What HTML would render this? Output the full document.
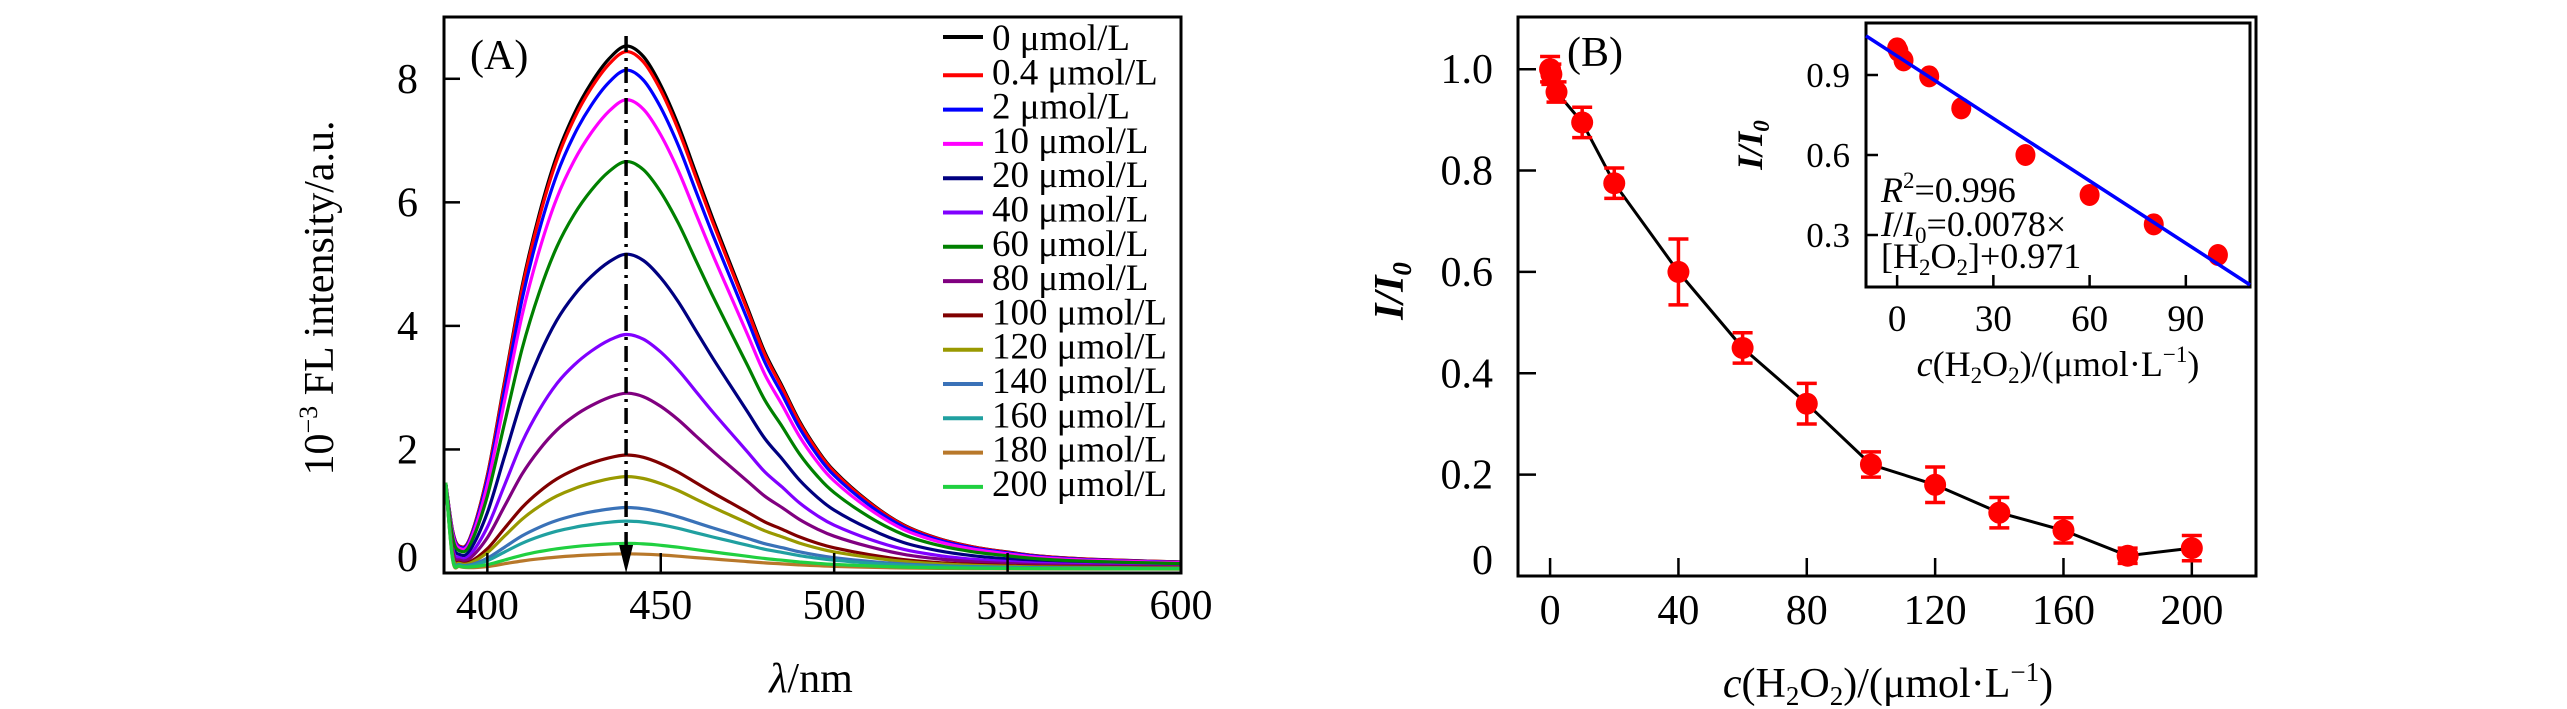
<!DOCTYPE html>
<html><head><meta charset="utf-8"><style>
html,body{margin:0;padding:0;background:#fff;}
svg{display:block;font-family:"Liberation Serif",serif;}
</style></head><body>
<svg id="fig" width="2567" height="709" viewBox="0 0 2567 709" xmlns="http://www.w3.org/2000/svg">
<g id="panelA"></g>
<g id="panelB"></g>
</svg>
<script>
// ---------- Panel A data ----------
const wavelengths = [388,390,392,395,400,405,410,415,420,425,430,435,440,445,450,455,460,465,470,475,480,485,490,495,500,510,520,530,540,550,560,575,600];
const profile =     [0.0,0.02,0.03,0.055,0.18,0.36,0.54,0.68,0.79,0.87,0.93,0.975,1.0,0.98,0.925,0.85,0.76,0.67,0.585,0.50,0.415,0.35,0.283,0.23,0.188,0.129,0.085,0.059,0.043,0.033,0.025,0.019,0.014];
const edge =        [1.40,0.45,0.12,0.04,0.0,0,0,0,0,0,0,0,0,0,0,0,0,0,0,0,0,0,0,0,0,0,0,0,0,0,0,0,0];
const concLabels = ["0 μmol/L","0.4 μmol/L","2 μmol/L","10 μmol/L","20 μmol/L","40 μmol/L","60 μmol/L","80 μmol/L","100 μmol/L","120 μmol/L","140 μmol/L","160 μmol/L","180 μmol/L","200 μmol/L"];
const peaks = [8.47,8.38,8.08,7.6,5.1,3.8,6.6,2.85,1.85,1.5,1.0,0.78,0.25,0.42];
const colors = ["#000000","#ff0000","#0000ff","#ff00ff","#000080","#8000ff","#008000","#800080","#800000","#999900","#3a72b8","#20a0a0","#b8782a","#20d040"];
const xTicksA = [400,450,500,550,600];
const yTicksA = [0,2,4,6,8];

// ---------- Panel B data ----------
const conc = [0,0.4,2,10,20,40,60,80,100,120,140,160,180,200];
const ratio = [1.0,0.99,0.955,0.895,0.775,0.60,0.45,0.34,0.22,0.18,0.125,0.09,0.04,0.055];
const errs = [0.025,0.02,0.02,0.03,0.03,0.065,0.03,0.04,0.025,0.035,0.03,0.025,0.015,0.025];
const xTicksB = [0,40,80,120,160,200];
const yTicksB = [0,0.2,0.4,0.6,0.8,1.0];
const yTickLabelsB = ["0","0.2","0.4","0.6","0.8","1.0"];
const insetConc = [0,0.4,2,10,20,40,60,80,100];
const insetRatio = [1.0,0.99,0.955,0.895,0.775,0.60,0.45,0.34,0.225];
const fitSlope = [-0.0078];
const fitIntercept = [0.971];
const xTicksIn = [0,30,60,90];
const yTicksIn = [0.3,0.6,0.9];

const NS="http://www.w3.org/2000/svg";
function mk(tag, parent, attrs){const e=document.createElementNS(NS,tag);for(const k in attrs)e.setAttribute(k,attrs[k]);parent.appendChild(e);return e;}
function smoothPath(pts){
  let d="M"+pts[0][0].toFixed(1)+","+pts[0][1].toFixed(1);
  for(let i=0;i<pts.length-1;i++){
    const p0=pts[Math.max(0,i-1)],p1=pts[i],p2=pts[i+1],p3=pts[Math.min(pts.length-1,i+2)];
    const c1x=p1[0]+(p2[0]-p0[0])/6,c1y=p1[1]+(p2[1]-p0[1])/6;
    const c2x=p2[0]-(p3[0]-p1[0])/6,c2y=p2[1]-(p3[1]-p1[1])/6;
    d+=`C${c1x.toFixed(1)},${c1y.toFixed(1)} ${c2x.toFixed(1)},${c2y.toFixed(1)} ${p2[0].toFixed(1)},${p2[1].toFixed(1)}`;
  }
  return d;
}

// ===== Panel A =====
const A=document.getElementById('panelA');
const aL=444,aR=1181,aT=17,aB=573;
const xA=v=>aL+(v-387.5)/(600-387.5)*(aR-aL);
const yA=v=>aB-v/9*(aB-aT);

colors.forEach((c,i)=>{
  const pts=wavelengths.map((w,j)=>{const v=peaks[i]*profile[j]+edge[j]*(j===0?1:(0.3+0.7*peaks[i]/8.5))+0.06;return [xA(w),yA(v)];});
  const p=mk('path',A,{d:smoothPath(pts),fill:'none',stroke:c,'stroke-width':3.2,'stroke-linejoin':'round'});
  
  
});
const dd=mk('line',A,{x1:xA(440),y1:36,x2:xA(440),y2:548,stroke:'#000','stroke-width':3.5,'stroke-dasharray':'16 6 3 6'});


const ah=mk('path',A,{d:`M${xA(440)-7},545 L${xA(440)+7},545 L${xA(440)},573 Z`,fill:'#000'});



const frA=mk('rect',A,{x:aL,y:aT,width:aR-aL,height:aB-aT,fill:'none',stroke:'#000','stroke-width':3});


xTicksA.forEach(t=>{
  const x=xA(t);
  if(t<600){const l=mk('line',A,{x1:x,y1:aB,x2:x,y2:aB-20,stroke:'#000','stroke-width':2.5});
  
  }
  const tx=mk('text',A,{x:x,y:619,'font-size':42,'text-anchor':'middle'});tx.textContent=t;
  
  
});
yTicksA.forEach(t=>{
  const y=yA(t);
  if(t>0){const l=mk('line',A,{x1:aL,y1:y,x2:aL+16,y2:y,stroke:'#000','stroke-width':2.5});
  
  }
  const tx=mk('text',A,{x:418,y:(t===0?y-2:y+14),'font-size':42,'text-anchor':'end'});tx.textContent=t;
  
  
});
concLabels.forEach((lab,i)=>{
  const y=37+i*34.3;
  const l=mk('line',A,{x1:943,y1:y+(i?4:0),x2:983,y2:y+(i?4:0),stroke:colors[i],'stroke-width':4});
  
  
  const t=mk('text',A,{x:992,y:y+13,'font-size':37});t.textContent=lab;
  
  
});
</script>
<script>
(function(){
const A=document.getElementById('panelA');
const NS="http://www.w3.org/2000/svg";
let t=document.createElementNS(NS,'text');t.setAttribute('x',470);t.setAttribute('y',69);t.setAttribute('font-size',42);t.textContent='(A)';


A.appendChild(t);
t=document.createElementNS(NS,'text');t.setAttribute('x',811);t.setAttribute('y',692);t.setAttribute('font-size',42);t.setAttribute('text-anchor','middle');
t.innerHTML='<tspan font-style="italic">λ</tspan>/nm';


A.appendChild(t);
t=document.createElementNS(NS,'text');t.setAttribute('transform','translate(333,298) rotate(-90)');t.setAttribute('font-size',42);t.setAttribute('text-anchor','middle');
t.innerHTML='10<tspan dy="-16" font-size="26">−3</tspan><tspan dy="16"> FL intensity/a.u.</tspan>';


A.appendChild(t);
})();
</script>
<script>
(function(){
const NS="http://www.w3.org/2000/svg";
function mk(tag,parent,attrs){const e=document.createElementNS(NS,tag);for(const k in attrs)e.setAttribute(k,attrs[k]);parent.appendChild(e);return e;}
const B=document.getElementById('panelB');
const bL=1518,bR=2256,bT=17,bB=576;
const xB=v=>bL+(v+10)/230*(bR-bL);
const yB=v=>bB-v/1.103*(bB-bT);
const fr=mk('rect',B,{x:bL,y:bT,width:bR-bL,height:bB-bT,fill:'none',stroke:'#000','stroke-width':3});


xTicksB.forEach(t=>{
  const x=xB(t);
  const l=mk('line',B,{x1:x,y1:bB,x2:x,y2:bB-18,stroke:'#000','stroke-width':2.5});
  
  
  const tx=mk('text',B,{x:x,y:624,'font-size':42,'text-anchor':'middle'});tx.textContent=t;
  
  
});
yTicksB.forEach((t,i)=>{
  const y=yB(t);
  if(t>0){const l=mk('line',B,{x1:bL,y1:y,x2:bL+18,y2:y,stroke:'#000','stroke-width':2.5});
  
  }
  const tx=mk('text',B,{x:1493,y:(t===0?y-2:y+14),'font-size':42,'text-anchor':'end'});tx.textContent=yTickLabelsB[i];
  
  
});
let d="";conc.forEach((c,i)=>{if(i===0)return;d+=(i>1?"L":"M")+xB(c).toFixed(1)+","+yB(ratio[i]).toFixed(1);});
const ln=mk('path',B,{d:d,fill:'none',stroke:'#000','stroke-width':3});


conc.forEach((c,i)=>{
  const x=xB(c),y=yB(ratio[i]),e=errs[i]/1.103*(bB-bT);
  const g=mk('path',B,{d:`M${x},${y-e}V${y+e}M${x-10},${y-e}H${x+10}M${x-10},${y+e}H${x+10}`,stroke:'#ff0000','stroke-width':3.5,fill:'none'});
  
  
  const p=mk('ellipse',B,{cx:x,cy:y,rx:11,ry:11,fill:'#ff0000'});
  
  
});
let t=mk('text',B,{x:1567,y:66,'font-size':42});t.textContent='(B)';


t=mk('text',B,{x:1888,y:697,'font-size':42,'text-anchor':'middle'});
t.innerHTML='<tspan font-style="italic">c</tspan>(H<tspan font-size="27" dy="8">2</tspan><tspan dy="-8">O</tspan><tspan font-size="27" dy="8">2</tspan><tspan dy="-8">)/(μmol·L</tspan><tspan font-size="27" dy="-16">−1</tspan><tspan dy="16">)</tspan>';


t=mk('text',B,{transform:'translate(1403,291) rotate(-90)','font-size':42,'text-anchor':'middle','font-style':'italic','font-weight':'bold'});
t.innerHTML='I/I<tspan font-size="27" dy="8">0</tspan>';



const iL=1866,iR=2250,iT=23,iB=287;
const xI=v=>iL+(v+9.7)/119.7*(iR-iL);
const yI=v=>iB-(v-0.105)/0.99*(iB-iT);
const ifr=mk('rect',B,{x:iL,y:iT,width:iR-iL,height:iB-iT,fill:'#fff',stroke:'#000','stroke-width':3});


xTicksIn.forEach(v=>{
  const x=xI(v);
  const l=mk('line',B,{x1:x,y1:iB,x2:x,y2:iB-12,stroke:'#000','stroke-width':2.5});
  
  
  const tx=mk('text',B,{x:x,y:331,'font-size':37,'text-anchor':'middle'});tx.textContent=v;
  
  
});
yTicksIn.forEach(v=>{
  const y=yI(v);
  const l=mk('line',B,{x1:iL,y1:y,x2:iL+12,y2:y,stroke:'#000','stroke-width':2.5});
  
  
  const tx=mk('text',B,{x:1850,y:y+12,'font-size':35,'text-anchor':'end'});tx.textContent=v.toFixed(1);
  
  
});
insetConc.forEach((c,i)=>{
  const p=mk('ellipse',B,{cx:xI(c),cy:yI(insetRatio[i]),rx:10,ry:11,fill:'#ff0000'});
  
  
});
const fx0=-9.7,fx1=110;
const fl=mk('line',B,{x1:xI(fx0),y1:yI(fitIntercept[0]+fitSlope[0]*fx0),x2:xI(fx1),y2:yI(fitIntercept[0]+fitSlope[0]*fx1),stroke:'#0000ff','stroke-width':3.5});


t=mk('text',B,{x:1881,y:202,'font-size':36});
t.innerHTML='<tspan font-style="italic">R</tspan><tspan font-size="23" dy="-14">2</tspan><tspan dy="14">=0.996</tspan>';


t=mk('text',B,{x:1881,y:236,'font-size':36});
t.innerHTML='<tspan font-style="italic">I</tspan>/<tspan font-style="italic">I</tspan><tspan font-size="23" dy="7">0</tspan><tspan dy="-7">=0.0078×</tspan>';


t=mk('text',B,{x:1881,y:268,'font-size':36});
t.innerHTML='[H<tspan font-size="23" dy="7">2</tspan><tspan dy="-7">O</tspan><tspan font-size="23" dy="7">2</tspan><tspan dy="-7">]+0.971</tspan>';


t=mk('text',B,{x:2058,y:376,'font-size':36,'text-anchor':'middle'});
t.innerHTML='<tspan font-style="italic">c</tspan>(H<tspan font-size="23" dy="7">2</tspan><tspan dy="-7">O</tspan><tspan font-size="23" dy="7">2</tspan><tspan dy="-7">)/(μmol·L</tspan><tspan font-size="23" dy="-14">−1</tspan><tspan dy="14">)</tspan>';


t=mk('text',B,{transform:'translate(1762,145) rotate(-90)','font-size':36,'text-anchor':'middle','font-style':'italic','font-weight':'bold'});
t.innerHTML='I/I<tspan font-size="23" dy="7">0</tspan>';


})();
</script>
</body></html>
